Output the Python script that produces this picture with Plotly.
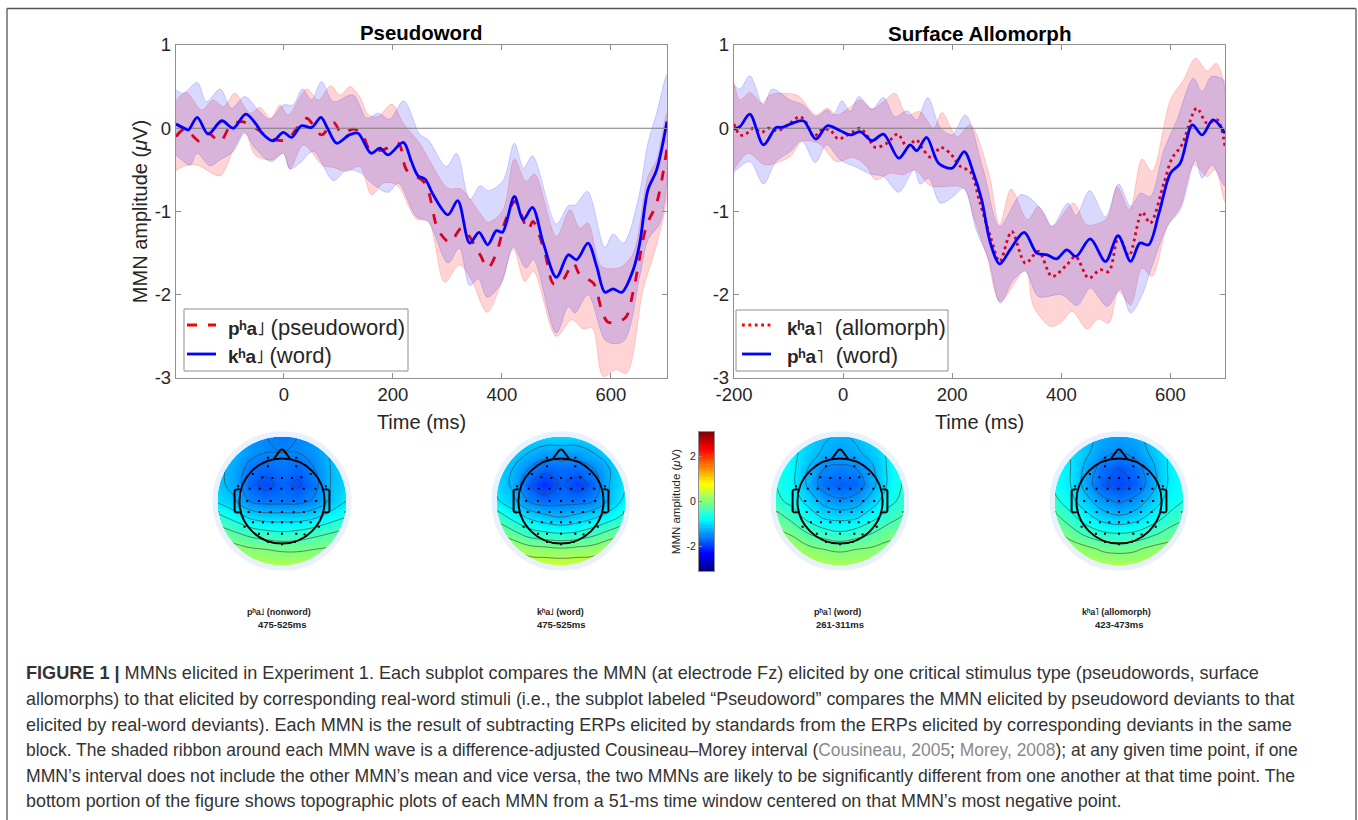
import plotly.graph_objects as go

W, H = 1358, 820

# ---------- Pseudoword panel ----------
L_red_t = [-198,-182,-154,-139,-117,-99,-78,-47,-26,5,26,42,69,91,106,127,143,158,182,210,225,259,283,305,326,360,374,390,407,424,448,457,479,495,512,531,543,568,583,595,626,641,665,684,703]
L_red_v = [-.10,-.01,-.16,-.06,-.16,.02,.08,-.02,-.12,-.14,.02,.12,-.08,.07,-.06,-.01,-.06,-.26,-.26,-.18,-.50,-.66,-1.22,-1.37,-1.20,-1.52,-1.68,-1.50,-1.10,-.88,-1.22,-1.12,-1.50,-1.87,-1.82,-1.62,-1.76,-1.86,-2.18,-2.33,-2.28,-1.96,-1.18,-.90,-.24]
L_blue_t = [-198,-180,-175,-159,-139,-114,-93,-70,-50,-40,-20,-1,14,32,51,68,80,97,120,136,160,176,191,219,234,246,259,274,301,319,341,358,374,390,401,423,439,456,476,500,522,537,558,574,589,604,620,641,653,668,684,703]
L_blue_v = [.05,-.01,-.02,.13,-.07,.09,0,.17,.04,-.06,-.15,-.05,-.11,.03,.01,.13,0,-.18,-.08,-.06,-.30,-.24,-.32,-.17,-.40,-.57,-.61,-.80,-1.04,-.87,-1.38,-1.25,-1.40,-1.23,-1.25,-.82,-1.10,-.95,-1.38,-1.79,-1.52,-1.58,-1.38,-1.66,-1.97,-1.93,-1.97,-1.70,-1.38,-.74,-.50,.08]

L_red_up_t = [-198,-179,-151,-130,-111,-90,-62,-44,-24,-7,8,42,63,86,103,121,139,155,173,198,219,249,265,301,325,360,375,402,423,444,460,500,525,543,558,583,617,641,668,684,703]
L_red_up_v = [.33,.43,.22,.34,.26,.42,.18,.25,.12,.28,.16,.47,.34,.51,.40,.50,.38,.16,.14,.29,.06,-.18,-.36,-.72,-.73,-1.02,-1.13,-.98,-.37,-.64,-.55,-1.30,-.98,-1.20,-1.14,-1.66,-1.67,-1.50,-.58,-.38,.18]
L_red_lo_t = [-198,-185,-160,-117,-93,-72,-53,-23,-1,11,36,72,91,115,139,161,182,207,243,265,295,322,344,373,399,421,442,458,500,528,549,566,586,610,629,659,684,703]
L_red_lo_v = [-.51,-.46,-.44,-.57,-.26,-.04,-.32,-.38,-.30,-.49,-.20,-.45,-.47,-.52,-.46,-.80,-.66,-.68,-1.09,-1.12,-1.85,-1.64,-1.82,-2.21,-1.86,-1.45,-1.84,-1.72,-2.50,-2.30,-2.41,-2.40,-2.98,-2.90,-2.94,-1.94,-1.40,-.82]
L_blue_up_t = [-198,-185,-159,-142,-117,-96,-72,-47,-26,-1,17,34,51,69,91,127,152,173,194,220,249,265,298,317,341,360,375,402,423,440,456,500,522,535,557,589,604,623,650,668,684,703]
L_blue_up_v = [.46,.42,.55,.32,.47,.24,.38,.22,.11,.28,.28,.47,.34,.56,.32,.40,.12,.18,.11,.33,-.07,-.14,-.46,-.30,-.86,-.69,-.75,-.63,-.18,-.48,-.33,-1.15,-.93,-.92,-.76,-1.43,-1.27,-1.38,-.86,-.18,.18,.64]
L_blue_lo_t = [-198,-172,-159,-136,-117,-93,-72,-53,-23,-1,11,29,54,91,115,139,161,191,210,243,265,301,322,341,357,373,399,421,444,458,500,522,534,558,592,623,653,668,690,703]
L_blue_lo_v = [-.32,-.44,-.30,-.45,-.38,-.28,-.06,-.24,-.40,-.30,-.49,-.42,-.28,-.63,-.50,-.53,-.66,-.77,-.66,-1.06,-1.12,-1.62,-1.44,-1.89,-1.81,-2.03,-1.86,-1.42,-1.68,-1.58,-2.46,-2.14,-2.22,-2.0,-2.56,-2.56,-1.78,-1.34,-1.14,-.60]

# ---------- Surface Allomorph panel ----------
R_red_t = [-200,-189,-180,-165,-149,-137,-120,-103,-79,-67,-54,-39,-24,-9,3,19,31,43,59,80,100,117,134,147,163,178,196,215,233,251,270,287,309,334,358,383,410,426,450,471,487,505,524,548,563,588,603,621,648,667,686,700]
R_red_v = [.05,-.08,-.08,0,-.05,0,-.03,.03,.14,.06,-.10,-.02,-.02,-.13,-.10,-.04,0,-.08,-.23,-.18,-.07,-.22,-.14,-.26,-.36,-.23,-.30,-.46,-.52,-.90,-1.30,-1.60,-1.24,-1.62,-1.48,-1.78,-1.64,-1.54,-1.80,-1.70,-1.72,-1.30,-1.53,-1.01,-1.14,-.66,-.36,-.20,.24,.06,.10,-.22]
R_blue_t = [-200,-189,-171,-146,-123,-112,-97,-73,-50,-29,-5,14,31,53,74,102,123,135,153,175,200,222,239,254,270,287,306,332,355,374,391,410,427,453,481,504,527,544,560,579,600,618,640,658,678,700]
R_blue_v = [-.01,.02,.17,-.20,.01,.01,.05,.09,-.13,.03,-.03,-.08,-.04,-.15,-.07,-.36,-.20,-.27,-.11,-.42,-.48,-.28,-.54,-.86,-1.38,-1.63,-1.46,-1.25,-1.50,-1.52,-1.57,-1.46,-1.54,-1.33,-1.60,-1.29,-1.60,-1.38,-1.40,-1.02,-.54,-.42,.04,-.08,.10,-.06]

R_red_up_t = [-200,-189,-171,-149,-134,-106,-82,-50,-29,-12,10,31,53,74,95,117,141,166,181,209,233,267,287,308,338,358,383,422,447,484,502,525,548,566,600,624,646,667,684,700]
R_red_up_v = [.55,.34,.43,.30,.40,.42,.39,.16,.24,.16,.24,.34,.23,.32,.42,.16,.20,0,.19,-.10,.04,-.54,-1.16,-.73,-1.10,-.94,-1.18,-.90,-1.16,-1.08,-.70,-.98,-.37,-.52,.34,.58,.84,.69,.78,.46]
R_red_lo_t = [-200,-174,-143,-97,-76,-45,-12,19,43,59,86,110,132,160,221,239,264,288,334,349,380,398,420,447,468,487,505,527,548,566,594,618,643,667,682,700]
R_red_lo_v = [-.50,-.30,-.44,-.34,-.16,-.18,-.40,-.35,-.46,-.62,-.54,-.56,-.50,-.69,-.72,-1.06,-1.54,-2.08,-1.70,-2.14,-2.38,-2.34,-2.20,-2.41,-2.29,-2.34,-1.96,-2.12,-1.68,-1.78,-1.18,-.94,-.44,-.58,-.50,-.88]
R_blue_up_t = [-200,-189,-171,-146,-130,-97,-73,-50,-29,-18,-2,13,29,53,74,95,117,135,155,178,200,224,257,287,325,343,368,383,412,427,452,481,505,527,545,563,588,612,642,658,675,700]
R_blue_up_v = [.52,.47,.63,.27,.47,.34,.28,.14,.22,.16,.33,.20,.38,.23,.37,.14,.21,.10,.37,.01,-.08,.16,-.50,-1.18,-.80,-.84,-1.02,-1.18,-.90,-1.05,-.75,-1.06,-.67,-.94,-.78,-.82,-.26,.10,.60,.44,.62,.56]
R_blue_lo_t = [-200,-171,-146,-123,-97,-76,-51,-30,-5,25,50,74,102,130,141,157,178,202,221,245,267,288,312,334,358,401,429,453,484,508,527,548,566,594,618,646,658,676,700]
R_blue_lo_v = [-.53,-.40,-.67,-.40,-.28,-.15,-.41,-.20,-.38,-.47,-.55,-.58,-.77,-.50,-.67,-.60,-.90,-.82,-.72,-1.24,-1.58,-2.10,-1.82,-1.72,-2.02,-2.0,-2.13,-1.92,-2.14,-1.93,-2.22,-2.0,-1.66,-1.18,-.98,-.38,-.60,-.44,-.69]

TICKS_Y = [-3, -2, -1, 0, 1]
TICK_LABELS_Y = ["-3", "-2", "-1", "0", "1"]
TICKS_L = [0, 200, 400, 600]
TICK_LABELS_L = ["0", "200", "400", "600"]
TICKS_R = [-200, 0, 200, 400, 600]
TICK_LABELS_R = ["-200", "0", "200", "400", "600"]

# ---------- Topographic maps (µV, rows from front y=+1 to back y=-1) ----------
GRID = [-1, -.75, -.5, -.25, 0, .25, .5, .75, 1]
MAP_PH_FALL = [
 [-1.2,-1.3,-1.4,-1.5,-1.6,-1.5,-1.4,-1.3,-1.2],
 [-1.1,-1.2,-1.4,-1.5,-1.5,-1.5,-1.4,-1.2,-1.1],
 [-1.1,-1.3,-1.6,-1.7,-1.6,-1.7,-1.5,-1.2,-1.0],
 [-1.1,-1.3,-1.7,-1.9,-1.7,-1.85,-1.6,-1.2,-1.0],
 [-.95,-1.15,-1.5,-1.6,-1.6,-1.6,-1.45,-1.15,-.9],
 [-.5,-.7,-.95,-1.05,-1.05,-1.05,-.95,-.75,-.6],
 [-.1,-.25,-.4,-.5,-.55,-.5,-.4,-.3,-.2],
 [.2,.15,.05,0,-.05,-.05,0,.05,.1],
 [.4,.35,.35,.3,.3,.3,.3,.35,.4]]
MAP_KH_FALL = [
 [-.9,-1.0,-1.0,-1.0,-1.0,-1.0,-1.0,-.95,-.8],
 [-1.0,-1.05,-1.2,-1.35,-1.35,-1.35,-1.2,-1.05,-.85],
 [-1.0,-1.2,-1.5,-1.7,-1.65,-1.65,-1.5,-1.2,-.9],
 [-1.0,-1.25,-1.75,-2.05,-1.75,-1.95,-1.7,-1.2,-.9],
 [-.85,-1.1,-1.5,-1.65,-1.6,-1.6,-1.5,-1.15,-.8],
 [-.4,-.7,-.95,-1.1,-1.2,-1.1,-.95,-.75,-.5],
 [.0,-.2,-.45,-.55,-.6,-.55,-.4,-.2,-.05],
 [.4,.3,.15,.1,.05,.1,.15,.3,.35],
 [.6,.55,.5,.5,.5,.5,.5,.5,.55]]
MAP_PH_RISE = [
 [-.6,-.8,-1,-1.15,-1.25,-1.15,-1.0,-.8,-.55],
 [-.65,-.8,-1.05,-1.25,-1.35,-1.25,-1.1,-.85,-.6],
 [-.65,-.8,-1.2,-1.5,-1.55,-1.5,-1.25,-.85,-.6],
 [-.6,-.8,-1.25,-1.65,-1.75,-1.7,-1.3,-.85,-.55],
 [-.5,-.7,-1.0,-1.3,-1.45,-1.35,-1.05,-.7,-.5],
 [-.15,-.4,-.7,-.95,-1.0,-.95,-.7,-.45,-.25],
 [.1,-.05,-.3,-.45,-.55,-.45,-.3,-.1,-.05],
 [.35,.3,.1,.0,-.05,-.0,.05,.1,.1],
 [.5,.45,.4,.3,.25,.25,.25,.3,.3]]
MAP_KH_RISE = [
 [-.7,-.9,-1.1,-1.3,-1.35,-1.3,-1.1,-.9,-.7],
 [-.7,-.9,-1.15,-1.4,-1.5,-1.4,-1.15,-.9,-.7],
 [-.7,-.9,-1.3,-1.65,-1.8,-1.65,-1.3,-.9,-.7],
 [-.7,-.9,-1.35,-1.75,-1.9,-1.75,-1.35,-.9,-.7],
 [-.5,-.8,-1.1,-1.4,-1.55,-1.4,-1.1,-.8,-.6],
 [-.2,-.5,-.8,-1.05,-1.15,-1.05,-.8,-.55,-.35],
 [.1,-.15,-.4,-.55,-.6,-.55,-.4,-.2,-.1],
 [.3,.2,.1,-.05,-.1,-.05,.1,.15,.15],
 [.4,.35,.3,.3,.3,.3,.3,.3,.3]]
MAPS = [MAP_PH_FALL, MAP_KH_FALL, MAP_PH_RISE, MAP_KH_RISE]
MAP_LABELS = ["<b>pʰa˩ (nonword)</b>", "<b>kʰa˩ (word)</b>", "<b>pʰa˥ (word)</b>", "<b>kʰa˥ (allomorph)</b>"]
MAP_WINDOWS = ["<b>475-525ms</b>", "<b>475-525ms</b>", "<b>261-311ms</b>", "<b>423-473ms</b>"]
ELEC_X = [-.217,.222,-.217,.222,-.45,-.305,-.15,0,.155,.30,.445,-.5,-.346,-.176,-.01,.16,.336,.517,-.54,-.357,-.176,0,.18,.36,.53,-.99,-.517,-.346,-.176,0,.18,.34,.506,.985,-.45,-.295,-.15,0,.145,.29,.445,-.58,-.357,-.217,0,.222,.35,.57,-.217,0,.2,-.68,.68]
ELEC_Y = [.67,.67,.54,.54,.42,.37,.357,.357,.357,.37,.42,.19,.19,.19,.19,.19,.19,.19,0,0,0,0,0,0,0,-.17,-.17,-.17,-.17,-.17,-.17,-.17,-.17,-.17,-.33,-.33,-.33,-.33,-.33,-.33,-.33,-.40,-.506,-.506,-.506,-.506,-.52,-.40,-.635,-.67,-.635,.227,.227]
CBAR_LEVELS = [-3.1 + i * 0.1 for i in range(63)]
JET = [[0, "#00007f"], [.125, "#0000ff"], [.375, "#00ffff"], [.625, "#ffff00"], [.875, "#ff0000"], [1, "#7f0000"]]

CAPTION = [
 "<b>FIGURE 1 |</b> MMNs elicited in Experiment 1. Each subplot compares the MMN (at electrode Fz) elicited by one critical stimulus type (pseudowords, surface",
 "allomorphs) to that elicited by corresponding real-word stimuli (i.e., the subplot labeled “Pseudoword” compares the MMN elicited by pseudoword deviants to that",
 "elicited by real-word deviants). Each MMN is the result of subtracting ERPs elicited by standards from the ERPs elicited by corresponding deviants in the same",
 "block. The shaded ribbon around each MMN wave is a difference-adjusted Cousineau–Morey interval (<span style='color:#8a8a8a'>Cousineau, 2005</span>; <span style='color:#8a8a8a'>Morey, 2008</span>); at any given time point, if one",
 "MMN’s interval does not include the other MMN’s mean and vice versa, the two MMNs are likely to be significantly different from one another at that time point. The",
 "bottom portion of the figure shows topographic plots of each MMN from a 51-ms time window centered on that MMN’s most negative point.",
]
CAPTION_SIZES = [18.1, 17.85, 18.05, 17.45, 17.63, 17.9]

FONT = "Liberation Sans, Arial, DejaVu Sans, sans-serif"
INK = "#262626"
AXIS = "#8f8f8f"
BLUE_FILL, BLUE_EDGE = "rgba(0,0,255,0.15)", "rgba(60,60,255,0.28)"
RED_FILL, RED_EDGE = "rgba(255,0,0,0.17)", "rgba(255,60,60,0.28)"


def fx(px):
    return px / W


def fy(px):
    return 1 - px / H


fig = go.Figure()


def band(up_t, up_v, lo_t, lo_v, fill, edge, xa, ya):
    fig.add_trace(go.Scatter(
        x=up_t + lo_t[::-1], y=up_v + lo_v[::-1], mode="lines", fill="toself",
        fillcolor=fill, line=dict(color=edge, width=0.8, shape="spline", smoothing=0.9),
        showlegend=False, hoverinfo="skip", xaxis=xa, yaxis=ya))


def wave(t, v, name, color, dash, xa, ya):
    fig.add_trace(go.Scatter(
        x=t, y=v, mode="lines", name=name, showlegend=False,
        line=dict(color=color, width=2.8, dash=dash, shape="spline", smoothing=0.9),
        xaxis=xa, yaxis=ya))


def zero(t0, t1, xa, ya):
    fig.add_trace(go.Scatter(x=[t0, t1], y=[0, 0], mode="lines", line=dict(color="#7d7d7d", width=1.1),
                             showlegend=False, hoverinfo="skip", xaxis=xa, yaxis=ya))


DASH_RED = "10px,11px"
DOT_RED = "2.8px,3.6px"
band(L_red_up_t, L_red_up_v, L_red_lo_t, L_red_lo_v, RED_FILL, RED_EDGE, "x", "y")
wave(L_red_t, L_red_v, "pʰa˩ (pseudoword)", "#ff0000", DASH_RED, "x", "y")
band(L_blue_up_t, L_blue_up_v, L_blue_lo_t, L_blue_lo_v, BLUE_FILL, BLUE_EDGE, "x", "y")
zero(-198, 703, "x", "y")
wave(L_blue_t, L_blue_v, "kʰa˩ (word)", "#0000ff", "solid", "x", "y")

band(R_red_up_t, R_red_up_v, R_red_lo_t, R_red_lo_v, RED_FILL, RED_EDGE, "x2", "y2")
wave(R_red_t, R_red_v, "kʰa˥ (allomorph)", "#ff0000", DOT_RED, "x2", "y2")
band(R_blue_up_t, R_blue_up_v, R_blue_lo_t, R_blue_lo_v, BLUE_FILL, BLUE_EDGE, "x2", "y2")
zero(-200, 700, "x2", "y2")
wave(R_blue_t, R_blue_v, "pʰa˥ (word)", "#0000ff", "solid", "x2", "y2")

common_axis = dict(showline=True, mirror="allticks", linecolor=AXIS, linewidth=1.4, ticks="inside", ticklen=5,
                   tickcolor=AXIS, tickwidth=1, showgrid=False, zeroline=False,
                   tickfont=dict(size=18.5, color=INK, family=FONT))
layout = dict(
    xaxis=dict(domain=[fx(176), fx(667)], range=[-198, 703], tickvals=TICKS_L, ticktext=TICK_LABELS_L, anchor="y",
               title=dict(text="Time (ms)", font=dict(size=20, color=INK, family=FONT), standoff=10), **common_axis),
    yaxis=dict(domain=[fy(378), fy(45)], range=[-3, 1], tickvals=TICKS_Y, ticktext=TICK_LABELS_Y, anchor="x",
               title=dict(text="MMN amplitude (<i>μ</i>V)", font=dict(size=20, color=INK, family=FONT), standoff=1), **common_axis),
    xaxis2=dict(domain=[fx(734), fx(1225)], range=[-200, 700], tickvals=TICKS_R, ticktext=TICK_LABELS_R, anchor="y2",
                title=dict(text="Time (ms)", font=dict(size=20, color=INK, family=FONT), standoff=10), **common_axis),
    yaxis2=dict(domain=[fy(378), fy(45)], range=[-3, 1], tickvals=TICKS_Y, ticktext=TICK_LABELS_Y, anchor="x2", **common_axis),
)

# topographic maps
CENTERS = [282, 561, 840, 1119]
CY = 501
SPAN = 1.08
RPX = 64.5
shapes = []
annotations = []
LBL_X = [279, 560, 837, 1116]
WIN_X = [282, 561, 840, 1119]


def note(xp, yp, text, size, color="#222", anchor="center"):
    annotations.append(dict(x=fx(xp), y=fy(yp), xref="paper", yref="paper", xanchor=anchor, yanchor="middle",
                            align="left" if anchor == "left" else "center", text=text, showarrow=False,
                            font=dict(size=size, color=color, family=FONT)))


def circle_path(r):
    k = 0.5523 * r
    return (f"M {-r} 0 C {-r} {k} {-k} {r} 0 {r} C {k} {r} {r} {k} {r} 0 "
            f"C {r} {-k} {k} {-r} 0 {-r} C {-k} {-r} {-r} {-k} {-r} 0 Z")


for i, (cx, rows) in enumerate(zip(CENTERS, MAPS)):
    n = i + 3
    xa, ya = f"x{n}", f"y{n}"
    half = RPX * SPAN
    layout[f"xaxis{n}"] = dict(domain=[fx(cx - half), fx(cx + half)], range=[-SPAN, SPAN], visible=False, anchor=ya, fixedrange=True)
    layout[f"yaxis{n}"] = dict(domain=[fy(CY + half), fy(CY - half)], range=[-SPAN, SPAN], visible=False, anchor=xa, fixedrange=True)
    fig.add_trace(go.Contour(
        x=GRID, y=GRID, z=rows[::-1], colorscale=JET, zmin=-3.1, zmax=3.1, showscale=False,
        contours=dict(coloring="heatmap", start=-3, end=3, size=0.3),
        line=dict(color="#3a3a3a", width=0.6, smoothing=1.2), hoverinfo="skip", xaxis=xa, yaxis=ya))
    fig.add_trace(go.Scatter(x=ELEC_X, y=ELEC_Y, mode="markers", marker=dict(color="black", size=2, symbol="square"),
                             showlegend=False, hoverinfo="skip", xaxis=xa, yaxis=ya))
    s = SPAN
    shapes.append(dict(type="path", xref=xa, yref=ya, path=f"M {-s} {-s} L {s} {-s} L {s} {s} L {-s} {s} Z " + circle_path(1.0),
                       fillcolor="white", line=dict(width=0), layer="above"))
    shapes.append(dict(type="circle", xref=xa, yref=ya, x0=-1.04, x1=1.04, y0=-1.04, y1=1.04,
                       line=dict(color="#e9f2fc", width=5.2), layer="above"))
    shapes.append(dict(type="circle", xref=xa, yref=ya, x0=-.66, x1=.66, y0=-.66, y1=.66,
                       line=dict(color="black", width=2), layer="above"))
    shapes.append(dict(type="path", xref=xa, yref=ya, path="M -.125 .655 L -.03 .785 Q 0 .81 .03 .785 L .125 .655",
                       line=dict(color="black", width=2), layer="above"))
    for sgn in (-1, 1):
        shapes.append(dict(type="path", xref=xa, yref=ya,
                           path=f"M {sgn*.655} .17 Q {sgn*.655} .185 {sgn*.7} .18 Q {sgn*.74} .18 {sgn*.735} .14 "
                                f"L {sgn*.735} -.13 Q {sgn*.74} -.18 {sgn*.69} -.18 L {sgn*.655} -.17",
                           line=dict(color="black", width=2), layer="above"))
    note(LBL_X[i], 612, MAP_LABELS[i], 9)
    note(WIN_X[i], 624, MAP_WINDOWS[i], 9.5)

# colour bar built as its own small axis
fig.add_trace(go.Heatmap(z=[[v] for v in CBAR_LEVELS], x=[0], y=CBAR_LEVELS, colorscale=JET, zmin=-3.1, zmax=3.1,
                         showscale=False, hoverinfo="skip", xaxis="x7", yaxis="y7"))
layout["xaxis7"] = dict(domain=[fx(699), fx(714)], range=[-.5, .5], showticklabels=False, ticks="", showgrid=False,
                        zeroline=False, showline=True, mirror=True, linecolor=AXIS, linewidth=1, anchor="y7")
layout["yaxis7"] = dict(domain=[fy(571), fy(432)], range=[-3.09, 3.09], tickvals=[-2, 0, 2], ticktext=["-2", "0", "2"],
                        ticks="inside", ticklen=2.5, tickcolor=AXIS, showgrid=False, zeroline=False, showline=True,
                        mirror=True, linecolor=AXIS, linewidth=1, anchor="x7", tickfont=dict(size=10.5, color=INK, family=FONT),
                        title=dict(text="MMN amplitude (<i>μ</i>V)", font=dict(size=11.5, color=INK, family=FONT), standoff=3))

note(421, 33, "<b>Pseudoword</b>", 20.4, "black")
note(979, 33, "<b>Surface Allomorph</b>", 20.6, "black")
for line, size, yp in zip(CAPTION, CAPTION_SIZES, [673, 699, 725, 750, 776, 801]):
    note(24, yp, line, size, "#333333", anchor="left")

# frame around the figure
for x0, y0, x1, y1 in [(7, 8.5, 1356, 8.5), (1356, 8.5, 1356, 820), (7, 8.5, 7, 820)]:
    shapes.append(dict(type="line", xref="paper", yref="paper", x0=fx(x0), x1=fx(x1), y0=fy(y0), y1=fy(y1),
                       line=dict(color="#555555", width=1.3), layer="above"))


def key(x0, x1, y0, y1, sample_x0, text_x, rows):
    shapes.append(dict(type="rect", xref="paper", yref="paper", x0=fx(x0), x1=fx(x1), y0=fy(y0), y1=fy(y1),
                       fillcolor="white", line=dict(color=AXIS, width=1), layer="above"))
    for yp, text, color, dash in rows:
        shapes.append(dict(type="line", xref="paper", yref="paper", x0=fx(sample_x0), x1=fx(sample_x0 + 29),
                           y0=fy(yp), y1=fy(yp), line=dict(color=color, width=2.8, dash=dash), layer="above"))
        note(text_x, yp + 2, text, 22, INK, anchor="left")


def lab(stem, tone, rest, gap=" "):
    return f"<span style='font-size:19px'><b>{stem}</b>{tone}</span>{gap}{rest}"


key(184, 408, 309, 371, 187, 226, [(325, lab("pʰa", "˩", "(pseudoword)"), "#ff0000", DASH_RED),
                                  (354, lab("kʰa", "˩", "(word)"), "#0000ff", "solid")])
key(736, 948, 310, 371, 742, 785, [(325, lab("kʰa", "˥", "(allomorph)", " \u00a0"), "#ff0000", DOT_RED),
                                  (354, lab("pʰa", "˥", "(word)", " \u00a0"), "#0000ff", "solid")])

fig.update_layout(
    width=W, height=H, margin=dict(l=0, r=0, t=0, b=0, autoexpand=False), paper_bgcolor="white", plot_bgcolor="white",
    font=dict(family=FONT), shapes=shapes, annotations=annotations, showlegend=False,
    **layout,
)

fig.write_html("out.html", config={"displayModeBar": False},
               post_script="document.body.style.margin='0';document.body.style.overflow='hidden';")
